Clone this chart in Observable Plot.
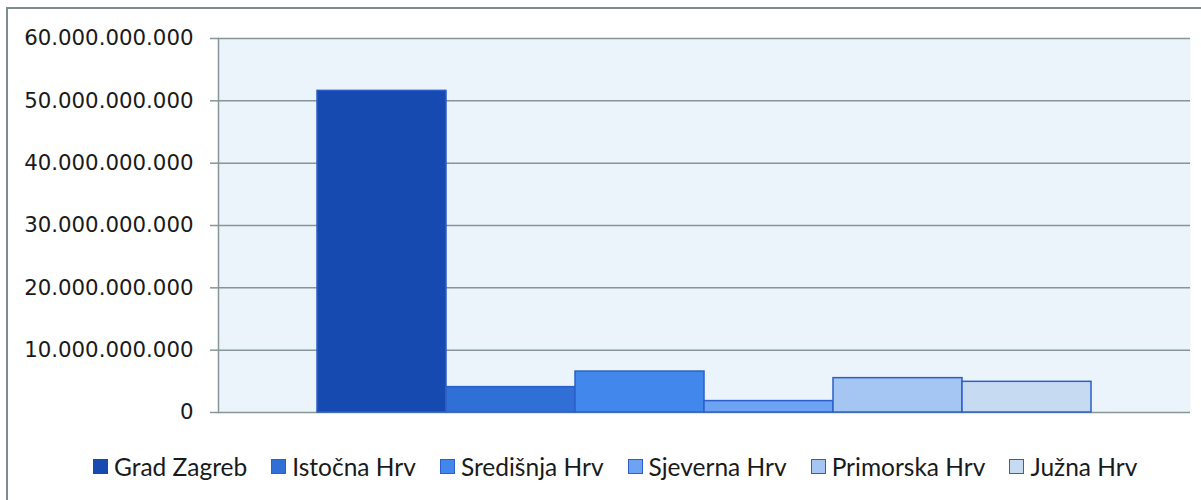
<!DOCTYPE html>
<html><head><meta charset="utf-8">
<script src="https://cdn.jsdelivr.net/npm/d3@7"></script>
<script src="https://cdn.jsdelivr.net/npm/@observablehq/plot@0.6"></script>
<style>
body{margin:0;width:1201px;height:500px;overflow:hidden;background:#fff;position:relative;font-family:"DejaVu Sans",sans-serif}
#frame{position:absolute;left:6px;top:7px;width:1300px;height:600px;border-left:2px solid #7d8d8d;border-top:2px solid #7d8d8d}
#chart{position:absolute;left:0;top:0}
#legend{position:absolute;left:93px;top:452px;display:flex;align-items:center;font-family:Lato,sans-serif;font-size:24.5px;color:#1a1a1a;white-space:nowrap}
#legend .item{display:flex;align-items:center;margin-right:24px}
#legend .sw{width:15px;height:15px;margin-right:6px;box-sizing:border-box;border:1.5px solid #2c5fc9}
</style>
</head><body>
<div id="frame"></div>
<div id="chart"></div>
<div id="legend"></div>
<script>
const regions = ["Grad Zagreb", "Istočna Hrv", "Središnja Hrv", "Sjeverna Hrv", "Primorska Hrv", "Južna Hrv"];
const values = [51.6e9, 4.07e9, 6.57e9, 1.83e9, 5.51e9, 4.92e9];
const colors = ["#174ab0", "#2f6fd6", "#4287ec", "#6da3f2", "#a5c5f2", "#c6dbf2"];
const yTicks = [0, 10e9, 20e9, 30e9, 40e9, 50e9, 60e9];

const data = regions.map((r, i) => ({region: r, value: values[i]}));
const fmt = d3.formatLocale({decimal: ",", thousands: ".", grouping: [3], currency: ["", ""]}).format(",");

const chart = Plot.plot({
  width: 1201,
  height: 430,
  marginLeft: 218,
  marginRight: 11,
  marginTop: 38,
  marginBottom: 18,
  style: {fontFamily: "DejaVu Sans, sans-serif", fontSize: "21.3px", color: "#1a1a1a", background: "transparent"},
  x: {domain: regions, paddingInner: 0, paddingOuter: 0.75, axis: null},
  y: {domain: [0, 60e9]},
  color: {domain: regions, range: colors},
  marks: [
    Plot.frame({fill: "#ebf3fb", stroke: null}),
    Plot.ruleY(yTicks, {stroke: "#869696", strokeWidth: 1.5}),
    Plot.frame({anchor: "left", stroke: "#869696", strokeWidth: 1.5}),
    Plot.axisY({ticks: yTicks, tickFormat: fmt, tickSize: 8, tickPadding: 17, stroke: "#869696", strokeWidth: 1.5, label: null, fill: "#1a1a1a"}),
    Plot.barY(data, {x: "region", y: "value", fill: "region", stroke: "#2c5fc9", strokeWidth: 1.5})
  ]
});
document.getElementById("chart").appendChild(chart);

const leg = document.getElementById("legend");
regions.forEach((r, i) => {
  const it = document.createElement("div");
  it.className = "item";
  const sw = document.createElement("span");
  sw.className = "sw";
  sw.style.background = colors[i];
  if (i === 0) sw.style.borderColor = colors[0];
  it.appendChild(sw);
  const t = document.createElement("span");
  t.textContent = r;
  it.appendChild(t);
  leg.appendChild(it);
});
</script>
</body></html>
